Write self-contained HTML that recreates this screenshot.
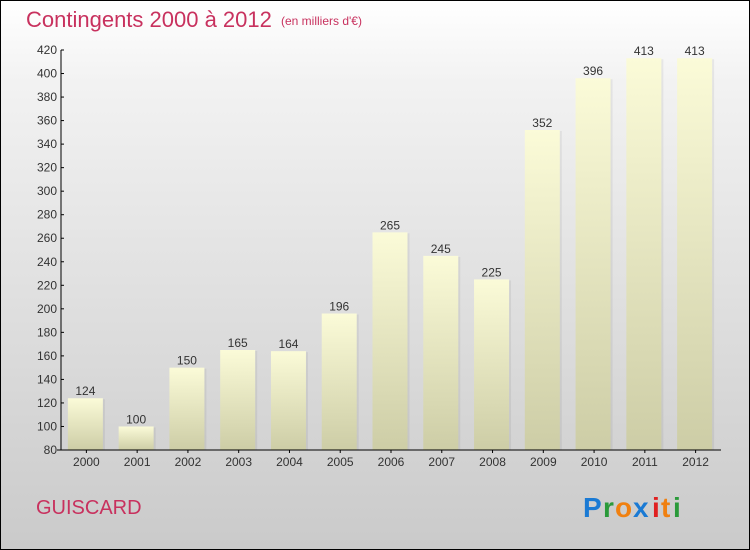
<!DOCTYPE html>
<html><head><meta charset="utf-8"><style>
body{margin:0;width:750px;height:550px;overflow:hidden;font-family:"Liberation Sans",sans-serif}
#wrap{position:absolute;left:0;top:0;width:748px;height:548px;border:1px solid #000;background:linear-gradient(#fff,#f2f2f2 15%,#d8d8d8 70%,#cacaca)}
</style></head><body>
<div id="wrap">
<svg width="750" height="550" style="position:absolute;left:-1px;top:-1px">
<defs><linearGradient id="bg" x1="0" y1="0" x2="0" y2="1"><stop offset="0" stop-color="#fbfbd8"/><stop offset="1" stop-color="#cdcda6"/></linearGradient></defs>
<text x="26" y="27" font-size="22" fill="#c8315e">Contingents 2000 à 2012</text>
<text x="281" y="25" font-size="12" fill="#c8315e">(en milliers d'€)</text>
<g id="yax"></g>
<g id="bars"></g>
<g id="xax"></g>
<text x="36" y="514" font-size="20" fill="#c8315e">GUISCARD</text>
<g font-size="28" font-weight="bold" font-family="Liberation Sans,sans-serif">
<text x="583" y="517" fill="#1a7ad4">P</text><text x="603" y="517" fill="#2a9a3a">r</text><text x="615" y="517" fill="#f08010">o</text><text x="633" y="517" fill="#1a7ad4">x</text><text x="652" y="517" fill="#e02020">i</text><text x="661" y="517" fill="#f08010">t</text><text x="673" y="517" fill="#2a9a3a">i</text>
</g>
</svg></div>
<script>
const years=["2000","2001","2002","2003","2004","2005","2006","2007","2008","2009","2010","2011","2012"];
const values=[124,100,150,165,164,196,265,245,225,352,396,413,413];
const yTicks=[80,100,120,140,160,180,200,220,240,260,280,300,320,340,360,380,400,420];
const NS="http://www.w3.org/2000/svg";
const x0=61,x1=721,yTop=50,yBot=450,vMin=80,vMax=420;
const y=v=>yBot-(v-vMin)/(vMax-vMin)*(yBot-yTop);
const slot=(x1-x0)/years.length;
const xc=i=>x0+slot*(i+0.5);
function mk(tag,attrs,parent){const e=document.createElementNS(NS,tag);for(const k in attrs)e.setAttribute(k,attrs[k]);parent.appendChild(e);return e;}
const ya=document.getElementById('yax'),ba=document.getElementById('bars'),xa=document.getElementById('xax');
yTicks.forEach(t=>{
 const l=mk('line',{x1:x0,x2:x0+3,y1:y(t),y2:y(t),stroke:'#000'},ya);
 
 
 const tx=mk('text',{x:x0-4,y:y(t)+4,'font-size':12,'text-anchor':'end',fill:'#333'},ya);tx.textContent=t;
 
 
});
mk('line',{x1:x0,x2:x0,y1:yTop,y2:yBot,stroke:'#000'},ya);
values.forEach((v,i)=>{
 const bw=35,bx=xc(i)-bw/2-1;
 const sh=mk('rect',{x:bx+2,y:y(v)+1,width:bw,height:yBot-y(v)-1,fill:'#000',opacity:0.06},ba);
 const r=mk('rect',{x:bx,y:y(v),width:bw,height:yBot-y(v),fill:'url(#bg)'},ba);
 
 
 const t=mk('text',{x:xc(i)-1,y:y(v)-3,'font-size':12,'text-anchor':'middle',fill:'#333'},ba);t.textContent=v;
 
 
 mk('line',{x1:xc(i),x2:xc(i),y1:yBot,y2:yBot+3,stroke:'#000'},xa);
 const xl=mk('text',{x:xc(i),y:466,'font-size':12,'text-anchor':'middle',fill:'#333'},xa);xl.textContent=years[i];
 
 
});
mk('line',{x1:x0-4,x2:x1,y1:yBot,y2:yBot,stroke:'#000'},xa);
</script>
</body></html>
